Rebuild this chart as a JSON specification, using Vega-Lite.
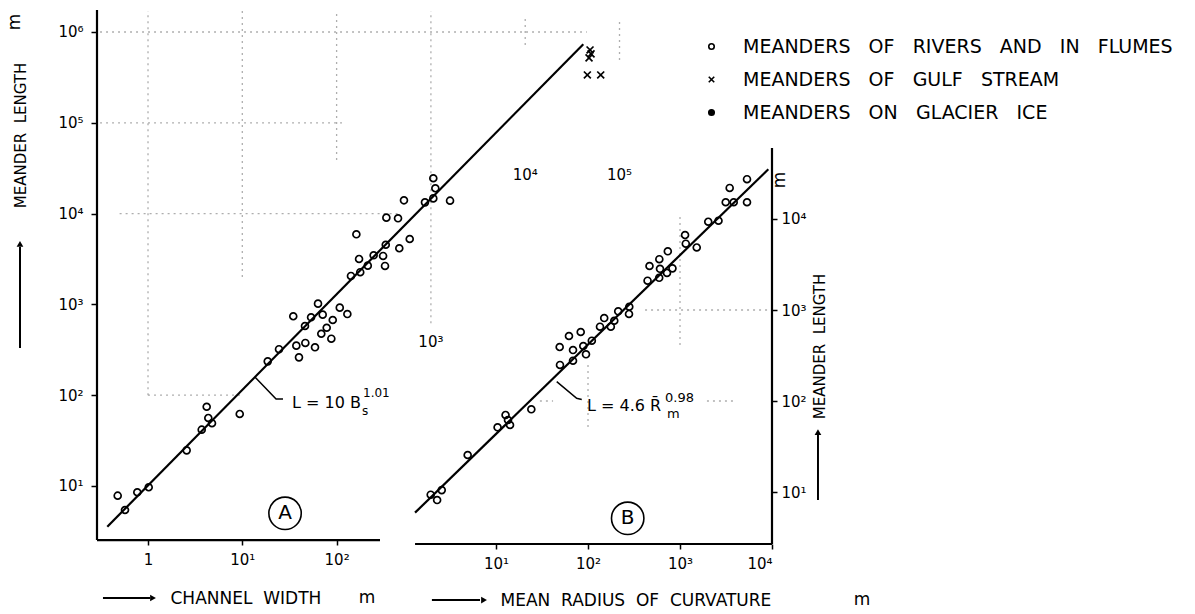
{
  "$schema": "https://vega.github.io/schema/vega-lite/v6.json",
  "width": 675,
  "height": 534,
  "autosize": {"type": "none"},
  "padding": {"left": 97, "top": 10, "right": 423, "bottom": 70},
  "background": "white",
  "config": {
    "font": "DejaVu Sans",
    "view": {"stroke": null},
    "axis": {"grid": false, "labelColor": "black", "titleColor": "black", "tickColor": "black", "labelFontSize": 15, "titleFontSize": 16, "titleFontWeight": "normal", "tickWidth": 1.5, "labelFont": "DejaVu Sans", "titleFont": "DejaVu Sans"},
    "legend": {"labelFont": "DejaVu Sans", "labelColor": "black"}
  },
  "datasets": {
    "gridA": [
      {"x": 1, "x2": 1, "y": 100, "y2": 1700000},
      {"x": 10, "x2": 10, "y": 2000, "y2": 1700000},
      {"x": 100, "x2": 100, "y": 39000, "y2": 1700000},
      {"x": 1000, "x2": 1000, "y": 620, "y2": 1700000},
      {"x": 10000, "x2": 10000, "y": 720000, "y2": 1540000},
      {"x": 100000, "x2": 100000, "y": 490000, "y2": 1360000},
      {"x": 0.31, "x2": 45000, "y": 1000000, "y2": 1000000},
      {"x": 0.31, "x2": 123, "y": 100000, "y2": 100000},
      {"x": 0.5, "x2": 470, "y": 10000, "y2": 10000},
      {"x": 1, "x2": 10, "y": 100, "y2": 100}
    ],
    "gridB": [
      {"x": 417, "x2": 10000, "y": 1000, "y2": 1000},
      {"x": 1000, "x2": 1000, "y": 412, "y2": 10500},
      {"x": 100, "x2": 100, "y": 51.8, "y2": 262},
      {"x": 30, "x2": 41.7, "y": 100, "y2": 100},
      {"x": 1963, "x2": 3963, "y": 100, "y2": 100}
    ],
    "axisLinesA": [
      {"x": 0.2878, "x2": 288.5, "y": 2.54, "y2": 2.54},
      {"x": 0.2878, "x2": 0.2878, "y": 2.54, "y2": 1746000}
    ],
    "axisLinesB": [
      {"x": 1.318, "x2": 10000, "y": 2.683, "y2": 2.683},
      {"x": 10000, "x2": 10000, "y": 2.683, "y2": 60300}
    ],
    "fitA": [{"x": 0.370, "y": 3.56}, {"x": 41300, "y": 733000}],
    "fitB": [{"x": 1.318, "y": 5.93}, {"x": 9120, "y": 35160}],
    "leaderA": [{"x": 13.6, "y": 158.5}, {"x": 22.8, "y": 90.8}, {"x": 27.0, "y": 90.8}],
    "leaderB": [{"x": 45.7, "y": 163}, {"x": 75.3, "y": 107}, {"x": 85.5, "y": 104}],
    "pointsA": [
      {"x": 0.477, "y": 7.82, "type": "rivers"},
      {"x": 0.570, "y": 5.44, "type": "rivers"},
      {"x": 0.770, "y": 8.53, "type": "rivers"},
      {"x": 1.017, "y": 9.68, "type": "rivers"},
      {"x": 2.57, "y": 24.7, "type": "rivers"},
      {"x": 3.71, "y": 41.7, "type": "rivers"},
      {"x": 4.19, "y": 74.6, "type": "rivers"},
      {"x": 4.36, "y": 56.1, "type": "rivers"},
      {"x": 4.77, "y": 49.1, "type": "rivers"},
      {"x": 9.39, "y": 62.1, "type": "rivers"},
      {"x": 18.6, "y": 236, "type": "rivers"},
      {"x": 24.5, "y": 321, "type": "rivers"},
      {"x": 34.7, "y": 740, "type": "rivers"},
      {"x": 37.4, "y": 351, "type": "rivers"},
      {"x": 39.9, "y": 261, "type": "rivers"},
      {"x": 46.6, "y": 376, "type": "rivers"},
      {"x": 46.2, "y": 578, "type": "rivers"},
      {"x": 53.6, "y": 721, "type": "rivers"},
      {"x": 59.0, "y": 337, "type": "rivers"},
      {"x": 63.5, "y": 1019, "type": "rivers"},
      {"x": 71.2, "y": 771, "type": "rivers"},
      {"x": 68.8, "y": 475, "type": "rivers"},
      {"x": 78.5, "y": 553, "type": "rivers"},
      {"x": 91.0, "y": 673, "type": "rivers"},
      {"x": 87.9, "y": 419, "type": "rivers"},
      {"x": 108, "y": 920, "type": "rivers"},
      {"x": 130, "y": 783, "type": "rivers"},
      {"x": 142, "y": 2056, "type": "rivers"},
      {"x": 162, "y": 5916, "type": "rivers"},
      {"x": 173, "y": 3162, "type": "rivers"},
      {"x": 178, "y": 2261, "type": "rivers"},
      {"x": 214, "y": 2669, "type": "rivers"},
      {"x": 247, "y": 3473, "type": "rivers"},
      {"x": 311, "y": 3415, "type": "rivers"},
      {"x": 326, "y": 2649, "type": "rivers"},
      {"x": 332, "y": 4538, "type": "rivers"},
      {"x": 337, "y": 9020, "type": "rivers"},
      {"x": 448, "y": 8872, "type": "rivers"},
      {"x": 462, "y": 4150, "type": "rivers"},
      {"x": 518, "y": 14000, "type": "rivers"},
      {"x": 596, "y": 5248, "type": "rivers"},
      {"x": 865, "y": 13300, "type": "rivers"},
      {"x": 1060, "y": 24500, "type": "rivers"},
      {"x": 1114, "y": 19000, "type": "rivers"},
      {"x": 1060, "y": 14700, "type": "rivers"},
      {"x": 1595, "y": 13870, "type": "rivers"},
      {"x": 48700, "y": 634000, "type": "gulf"},
      {"x": 49900, "y": 573000, "type": "gulf"},
      {"x": 47500, "y": 518000, "type": "gulf"},
      {"x": 45600, "y": 336000, "type": "gulf"},
      {"x": 63200, "y": 336000, "type": "gulf"}
    ],
    "pointsB": [
      {"x": 1.95, "y": 9.34, "type": "rivers"},
      {"x": 2.29, "y": 8.16, "type": "rivers"},
      {"x": 2.57, "y": 10.5, "type": "rivers"},
      {"x": 4.92, "y": 25.5, "type": "rivers"},
      {"x": 10.4, "y": 51.4, "type": "rivers"},
      {"x": 12.7, "y": 70.2, "type": "rivers"},
      {"x": 13.5, "y": 61.8, "type": "rivers"},
      {"x": 14.2, "y": 54.5, "type": "rivers"},
      {"x": 24.2, "y": 81.1, "type": "rivers"},
      {"x": 49.6, "y": 249, "type": "rivers"},
      {"x": 49.2, "y": 392, "type": "rivers"},
      {"x": 62.1, "y": 518, "type": "rivers"},
      {"x": 68.7, "y": 363, "type": "rivers"},
      {"x": 68.7, "y": 277, "type": "rivers"},
      {"x": 83.3, "y": 573, "type": "rivers"},
      {"x": 88.9, "y": 402, "type": "rivers"},
      {"x": 95.1, "y": 326, "type": "rivers"},
      {"x": 110, "y": 460, "type": "rivers"},
      {"x": 135, "y": 655, "type": "rivers"},
      {"x": 150, "y": 816, "type": "rivers"},
      {"x": 177, "y": 655, "type": "rivers"},
      {"x": 193, "y": 762, "type": "rivers"},
      {"x": 213, "y": 968, "type": "rivers"},
      {"x": 279, "y": 904, "type": "rivers"},
      {"x": 281, "y": 1086, "type": "rivers"},
      {"x": 444, "y": 2099, "type": "rivers"},
      {"x": 466, "y": 3045, "type": "rivers"},
      {"x": 594, "y": 2259, "type": "rivers"},
      {"x": 596, "y": 3614, "type": "rivers"},
      {"x": 606, "y": 2837, "type": "rivers"},
      {"x": 722, "y": 2551, "type": "rivers"},
      {"x": 737, "y": 4418, "type": "rivers"},
      {"x": 828, "y": 2870, "type": "rivers"},
      {"x": 1135, "y": 6668, "type": "rivers"},
      {"x": 1156, "y": 5354, "type": "rivers"},
      {"x": 1520, "y": 4865, "type": "rivers"},
      {"x": 2028, "y": 9333, "type": "rivers"},
      {"x": 2621, "y": 9572, "type": "rivers"},
      {"x": 3140, "y": 15280, "type": "rivers"},
      {"x": 3467, "y": 21930, "type": "rivers"},
      {"x": 3833, "y": 15280, "type": "rivers"},
      {"x": 5350, "y": 27370, "type": "rivers"},
      {"x": 5350, "y": 15280, "type": "rivers"}
    ],
    "arrowsA": [
      {"x": 0.0439, "x2": 0.0439, "y": 331, "y2": 4290},
      {"x": 0.333, "x2": 1.05, "y": 0.584, "y2": 0.584}
    ],
    "headUpA": [{"x": 0.0439, "y": 4630}],
    "headRightA": [{"x": 1.13, "y": 0.584}],
    "arrowsB": [
      {"x": 2.01, "x2": 6.70, "y": 0.65, "y2": 0.65},
      {"x": 31600, "x2": 31600, "y": 8.17, "y2": 42.3}
    ],
    "headUpB": [{"x": 31600, "y": 45.6}],
    "headRightB": [{"x": 7.41, "y": 0.65}],
    "unitA": [{"x": 210, "y": 0.584, "label": "m"}],
    "unitARot": [{"x": 0.0389, "y": 1288000, "label": "m"}],
    "unitB": [{"x": 95100, "y": 0.65, "label": "m"}],
    "unitBRot": [{"x": 12200, "y": 26850, "label": "m"}],
    "formulaA": [{"x": 33.7, "y": 82.0, "label": "L = 10 B"}],
    "scriptsA": [{"x": 190.5, "y": 105.7, "label": "1.01"}, {"x": 186, "y": 67.0, "label": "s"}],
    "ticksA": [
      {"x": 1000, "y": 388, "label": "10³"},
      {"x": 10000, "y": 26600, "label": "10⁴"},
      {"x": 100000, "y": 26600, "label": "10⁵"}
    ],
    "panelA": [{"x": 28.4, "y": 5.0, "label": "A"}],
    "formulaB": [{"x": 97.5, "y": 88.1, "label": "L = 4.6 R\u0304"}],
    "scriptsB": [{"x": 687, "y": 108, "label": "0.98"}, {"x": 722, "y": 72, "label": "m"}],
    "panelB": [{"x": 270, "y": 5.14, "label": "B"}]
  },
  "layer": [
    {
      "layer": [
        {
          "data": {"name": "gridA"},
          "mark": {"type": "rule", "color": "#8c8c8c", "strokeDash": [2, 4], "strokeWidth": 1.3, "opacity": 0.7},
          "encoding": {
            "x": {"field": "x", "type": "quantitative", "scale": {"type": "log", "domain": [0.2878, 4140000], "nice": false},
              "axis": {"orient": "bottom", "values": [1, 10, 100], "labelExpr": "datum.value < 1.5 ? '1' : '10' + ['⁰','¹','²','³','⁴','⁵','⁶'][round(log(datum.value)/LN10)]", "domain": false, "tickSize": 5, "labelPadding": 7, "offset": -4, "title": "CHANNEL\u00a0\u00a0WIDTH", "titleX": 73, "titleY": 58, "titleAlign": "left", "titleBaseline": "middle", "titleFontSize": 17}},
            "x2": {"field": "x2"},
            "y": {"field": "y", "type": "quantitative", "scale": {"type": "log", "domain": [2.297, 1746000], "nice": false},
              "axis": {"orient": "left", "values": [10, 100, 1000, 10000, 100000, 1000000], "labelExpr": "datum.value < 1.5 ? '1' : '10' + ['⁰','¹','²','³','⁴','⁵','⁶'][round(log(datum.value)/LN10)]", "domain": false, "tickSize": 6, "labelPadding": 8, "title": "MEANDER\u00a0\u00a0LENGTH", "titleAngle": 270, "titleX": -77, "titleY": 125, "titleAlign": "center", "titleBaseline": "middle", "titleFontSize": 15}},
            "y2": {"field": "y2"}
          }
        },
        {
          "data": {"name": "axisLinesA"},
          "mark": {"type": "rule", "color": "black", "strokeWidth": 2.2},
          "encoding": {"x": {"field": "x", "type": "quantitative"}, "x2": {"field": "x2"}, "y": {"field": "y", "type": "quantitative"}, "y2": {"field": "y2"}}
        },
        {
          "data": {"name": "fitA"},
          "mark": {"type": "line", "color": "black", "strokeWidth": 2.2},
          "encoding": {"x": {"field": "x", "type": "quantitative"}, "y": {"field": "y", "type": "quantitative"}}
        },
        {
          "data": {"name": "leaderA"},
          "mark": {"type": "line", "color": "black", "strokeWidth": 1.5},
          "encoding": {"x": {"field": "x", "type": "quantitative"}, "y": {"field": "y", "type": "quantitative"}}
        },
        {
          "data": {"name": "pointsA"},
          "mark": {"type": "point", "strokeWidth": 1.7, "size": 48, "opacity": 1},
          "encoding": {
            "x": {"field": "x", "type": "quantitative"},
            "y": {"field": "y", "type": "quantitative"},
            "shape": {"field": "type", "type": "nominal",
              "scale": {"domain": ["rivers", "gulf", "glacier"], "range": ["circle", "M-1,-1L1,1M-1,1L1,-1", "circle"]},
              "legend": {"title": null, "orient": "none", "legendX": 605, "legendY": 27, "labelFontSize": 19, "symbolSize": 30, "symbolStrokeWidth": 1.6, "labelOffset": 22, "rowPadding": 13, "labelLimit": 800,
                "labelExpr": "datum.value == 'rivers' ? 'MEANDERS\u00a0\u00a0 OF\u00a0\u00a0 RIVERS\u00a0\u00a0 AND\u00a0\u00a0 IN\u00a0\u00a0 FLUMES' : datum.value == 'gulf' ? 'MEANDERS\u00a0\u00a0 OF\u00a0\u00a0 GULF\u00a0\u00a0 STREAM' : 'MEANDERS\u00a0\u00a0 ON\u00a0\u00a0 GLACIER\u00a0\u00a0 ICE'"}},
            "fill": {"field": "type", "type": "nominal",
              "scale": {"domain": ["rivers", "gulf", "glacier"], "range": ["transparent", "transparent", "black"]},
              "legend": {"title": null, "orient": "none", "legendX": 605, "legendY": 27, "labelFontSize": 19, "symbolSize": 30, "symbolStrokeWidth": 1.6, "labelOffset": 22, "rowPadding": 13, "labelLimit": 800,
                "labelExpr": "datum.value == 'rivers' ? 'MEANDERS\u00a0\u00a0 OF\u00a0\u00a0 RIVERS\u00a0\u00a0 AND\u00a0\u00a0 IN\u00a0\u00a0 FLUMES' : datum.value == 'gulf' ? 'MEANDERS\u00a0\u00a0 OF\u00a0\u00a0 GULF\u00a0\u00a0 STREAM' : 'MEANDERS\u00a0\u00a0 ON\u00a0\u00a0 GLACIER\u00a0\u00a0 ICE'"}},
            "stroke": {"field": "type", "type": "nominal",
              "scale": {"domain": ["rivers", "gulf", "glacier"], "range": ["black", "black", "black"]},
              "legend": {"title": null, "orient": "none", "legendX": 605, "legendY": 27, "labelFontSize": 19, "symbolSize": 30, "symbolStrokeWidth": 1.6, "labelOffset": 22, "rowPadding": 13, "labelLimit": 800,
                "labelExpr": "datum.value == 'rivers' ? 'MEANDERS\u00a0\u00a0 OF\u00a0\u00a0 RIVERS\u00a0\u00a0 AND\u00a0\u00a0 IN\u00a0\u00a0 FLUMES' : datum.value == 'gulf' ? 'MEANDERS\u00a0\u00a0 OF\u00a0\u00a0 GULF\u00a0\u00a0 STREAM' : 'MEANDERS\u00a0\u00a0 ON\u00a0\u00a0 GLACIER\u00a0\u00a0 ICE'"}}
          }
        },
        {
          "data": {"name": "arrowsA"},
          "mark": {"type": "rule", "color": "black", "strokeWidth": 2},
          "encoding": {"x": {"field": "x", "type": "quantitative"}, "x2": {"field": "x2"}, "y": {"field": "y", "type": "quantitative"}, "y2": {"field": "y2"}}
        },
        {
          "data": {"name": "headUpA"},
          "mark": {"type": "point", "shape": "triangle-up", "filled": true, "color": "black", "size": 45, "opacity": 1},
          "encoding": {"x": {"field": "x", "type": "quantitative"}, "y": {"field": "y", "type": "quantitative"}}
        },
        {
          "data": {"name": "headRightA"},
          "mark": {"type": "point", "shape": "triangle-right", "filled": true, "color": "black", "size": 45, "opacity": 1},
          "encoding": {"x": {"field": "x", "type": "quantitative"}, "y": {"field": "y", "type": "quantitative"}}
        },
        {
          "data": {"name": "unitA"},
          "mark": {"type": "text", "fontSize": 17, "align": "center", "baseline": "middle"},
          "encoding": {"x": {"field": "x", "type": "quantitative"}, "y": {"field": "y", "type": "quantitative"}, "text": {"field": "label"}}
        },
        {
          "data": {"name": "unitARot"},
          "mark": {"type": "text", "fontSize": 17, "align": "center", "baseline": "middle", "angle": 270},
          "encoding": {"x": {"field": "x", "type": "quantitative"}, "y": {"field": "y", "type": "quantitative"}, "text": {"field": "label"}}
        },
        {
          "data": {"name": "formulaA"},
          "mark": {"type": "text", "fontSize": 16, "align": "left", "baseline": "middle"},
          "encoding": {"x": {"field": "x", "type": "quantitative"}, "y": {"field": "y", "type": "quantitative"}, "text": {"field": "label"}}
        },
        {
          "data": {"name": "scriptsA"},
          "mark": {"type": "text", "fontSize": 12, "align": "left", "baseline": "middle"},
          "encoding": {"x": {"field": "x", "type": "quantitative"}, "y": {"field": "y", "type": "quantitative"}, "text": {"field": "label"}}
        },
        {
          "data": {"name": "ticksA"},
          "mark": {"type": "text", "fontSize": 15, "align": "center", "baseline": "middle"},
          "encoding": {"x": {"field": "x", "type": "quantitative"}, "y": {"field": "y", "type": "quantitative"}, "text": {"field": "label"}}
        },
        {
          "data": {"name": "panelA"},
          "mark": {"type": "point", "shape": "circle", "size": 1050, "stroke": "black", "strokeWidth": 1.6, "fill": "transparent", "opacity": 1},
          "encoding": {"x": {"field": "x", "type": "quantitative"}, "y": {"field": "y", "type": "quantitative"}}
        },
        {
          "data": {"name": "panelA"},
          "mark": {"type": "text", "fontSize": 20, "align": "center", "baseline": "middle"},
          "encoding": {"x": {"field": "x", "type": "quantitative"}, "y": {"field": "y", "type": "quantitative"}, "text": {"field": "label"}}
        }
      ]
    },
    {
      "layer": [
        {
          "data": {"name": "gridB"},
          "mark": {"type": "rule", "color": "#8c8c8c", "strokeDash": [2, 4], "strokeWidth": 1.3, "opacity": 0.7},
          "encoding": {
            "x": {"field": "x", "type": "quantitative", "scale": {"type": "log", "domain": [0.00046, 10000], "nice": false},
              "axis": {"orient": "bottom", "values": [10, 100, 1000, 10000], "labelExpr": "datum.value < 1.5 ? '1' : '10' + ['⁰','¹','²','³','⁴','⁵','⁶'][round(log(datum.value)/LN10)]", "domain": false, "tickSize": 5, "labelPadding": 7, "title": "MEAN\u00a0\u00a0RADIUS\u00a0\u00a0OF\u00a0\u00a0CURVATURE", "titleX": 403, "titleY": 56, "titleAlign": "left", "titleBaseline": "middle", "titleFontSize": 17}},
            "x2": {"field": "x2"},
            "y": {"field": "y", "type": "quantitative", "scale": {"type": "log", "domain": [2.683, 1980000], "nice": false},
              "axis": {"orient": "right", "values": [10, 100, 1000, 10000], "labelExpr": "datum.value < 1.5 ? '1' : '10' + ['⁰','¹','²','³','⁴','⁵','⁶'][round(log(datum.value)/LN10)]", "domain": false, "tickSize": 5, "labelPadding": 4, "title": "MEANDER\u00a0\u00a0LENGTH", "titleAngle": 270, "titleX": 47, "titleY": 336, "titleAlign": "center", "titleBaseline": "middle", "titleFontSize": 15}},
            "y2": {"field": "y2"}
          }
        },
        {
          "data": {"name": "axisLinesB"},
          "mark": {"type": "rule", "color": "black", "strokeWidth": 2.2},
          "encoding": {"x": {"field": "x", "type": "quantitative"}, "x2": {"field": "x2"}, "y": {"field": "y", "type": "quantitative"}, "y2": {"field": "y2"}}
        },
        {
          "data": {"name": "fitB"},
          "mark": {"type": "line", "color": "black", "strokeWidth": 2.2},
          "encoding": {"x": {"field": "x", "type": "quantitative"}, "y": {"field": "y", "type": "quantitative"}}
        },
        {
          "data": {"name": "leaderB"},
          "mark": {"type": "line", "color": "black", "strokeWidth": 1.5},
          "encoding": {"x": {"field": "x", "type": "quantitative"}, "y": {"field": "y", "type": "quantitative"}}
        },
        {
          "data": {"name": "pointsB"},
          "mark": {"type": "point", "strokeWidth": 1.7, "size": 48, "opacity": 1},
          "encoding": {
            "x": {"field": "x", "type": "quantitative"},
            "y": {"field": "y", "type": "quantitative"},
            "shape": {"field": "type", "type": "nominal",
              "scale": {"domain": ["rivers", "gulf", "glacier"], "range": ["circle", "M-1,-1L1,1M-1,1L1,-1", "circle"]}},
            "fill": {"field": "type", "type": "nominal",
              "scale": {"domain": ["rivers", "gulf", "glacier"], "range": ["transparent", "transparent", "black"]}},
            "stroke": {"field": "type", "type": "nominal",
              "scale": {"domain": ["rivers", "gulf", "glacier"], "range": ["black", "black", "black"]}}
          }
        },
        {
          "data": {"name": "arrowsB"},
          "mark": {"type": "rule", "color": "black", "strokeWidth": 2},
          "encoding": {"x": {"field": "x", "type": "quantitative"}, "x2": {"field": "x2"}, "y": {"field": "y", "type": "quantitative"}, "y2": {"field": "y2"}}
        },
        {
          "data": {"name": "headUpB"},
          "mark": {"type": "point", "shape": "triangle-up", "filled": true, "color": "black", "size": 45, "opacity": 1},
          "encoding": {"x": {"field": "x", "type": "quantitative"}, "y": {"field": "y", "type": "quantitative"}}
        },
        {
          "data": {"name": "headRightB"},
          "mark": {"type": "point", "shape": "triangle-right", "filled": true, "color": "black", "size": 45, "opacity": 1},
          "encoding": {"x": {"field": "x", "type": "quantitative"}, "y": {"field": "y", "type": "quantitative"}}
        },
        {
          "data": {"name": "unitB"},
          "mark": {"type": "text", "fontSize": 17, "align": "center", "baseline": "middle"},
          "encoding": {"x": {"field": "x", "type": "quantitative"}, "y": {"field": "y", "type": "quantitative"}, "text": {"field": "label"}}
        },
        {
          "data": {"name": "unitBRot"},
          "mark": {"type": "text", "fontSize": 17, "align": "center", "baseline": "middle", "angle": 270},
          "encoding": {"x": {"field": "x", "type": "quantitative"}, "y": {"field": "y", "type": "quantitative"}, "text": {"field": "label"}}
        },
        {
          "data": {"name": "formulaB"},
          "mark": {"type": "text", "fontSize": 16, "align": "left", "baseline": "middle"},
          "encoding": {"x": {"field": "x", "type": "quantitative"}, "y": {"field": "y", "type": "quantitative"}, "text": {"field": "label"}}
        },
        {
          "data": {"name": "scriptsB"},
          "mark": {"type": "text", "fontSize": 13, "align": "left", "baseline": "middle"},
          "encoding": {"x": {"field": "x", "type": "quantitative"}, "y": {"field": "y", "type": "quantitative"}, "text": {"field": "label"}}
        },
        {
          "data": {"name": "panelB"},
          "mark": {"type": "point", "shape": "circle", "size": 1050, "stroke": "black", "strokeWidth": 1.6, "fill": "transparent", "opacity": 1},
          "encoding": {"x": {"field": "x", "type": "quantitative"}, "y": {"field": "y", "type": "quantitative"}}
        },
        {
          "data": {"name": "panelB"},
          "mark": {"type": "text", "fontSize": 20, "align": "center", "baseline": "middle"},
          "encoding": {"x": {"field": "x", "type": "quantitative"}, "y": {"field": "y", "type": "quantitative"}, "text": {"field": "label"}}
        }
      ]
    }
  ],
  "resolve": {"scale": {"x": "independent", "y": "independent"}}
}
